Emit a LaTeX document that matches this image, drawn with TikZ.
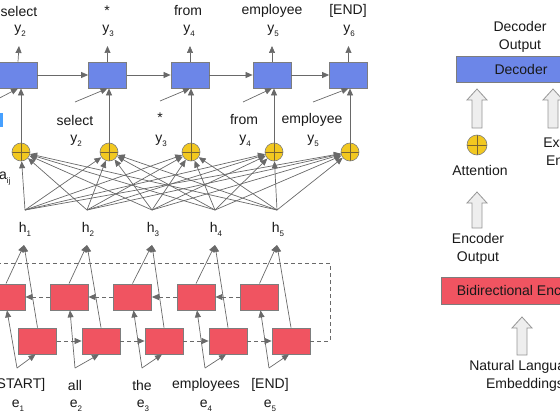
\documentclass[tikz,border=0pt]{standalone}
\usepackage{fontspec}
\setmainfont{Liberation Sans}
\usetikzlibrary{arrows.meta}
\definecolor{decblue}{RGB}{108,134,232}
\definecolor{encred}{RGB}{240,84,97}
\definecolor{attyellow}{RGB}{242,200,32}
\definecolor{linegray}{RGB}{105,105,105}
\definecolor{boxgray}{RGB}{125,125,125}
\definecolor{crossc}{RGB}{120,100,50}
\definecolor{hollowfill}{RGB}{238,238,238}
\definecolor{hollowline}{RGB}{150,150,150}
\definecolor{markblue}{RGB}{70,160,255}
\definecolor{txt}{RGB}{25,25,25}
\newcommand\sub[2]{#1\raisebox{-4pt}{\fontsize{8}{8}\selectfont #2}}
\newcommand\hollowup[3]{%
  \draw[hollow] ({#1-5},#2) -- ({#1-5},{#3+11}) -- ({#1-10},{#3+11}) -- (#1,#3)
    -- ({#1+10},{#3+11}) -- ({#1+5},{#3+11}) -- ({#1+5},#2) -- cycle;}
\begin{document}
\begin{tikzpicture}[x=1pt,y=-1pt,
  font=\fontsize{14}{18}\selectfont, text=txt,
  lbl/.style={inner sep=0pt},
  dbox/.style={draw=boxgray, fill=decblue, line width=0.8pt, minimum width=38pt, minimum height=26pt, inner sep=0pt},
  ebox/.style={draw=boxgray, fill=encred, line width=0.8pt, minimum width=38pt, minimum height=26pt, inner sep=0pt},
  att/.style={circle, draw=boxgray, fill=attyellow, line width=0.6pt, minimum size=18pt, inner sep=0pt,
    path picture={\draw[crossc, line width=0.6pt] (path picture bounding box.north) -- (path picture bounding box.south)
      (path picture bounding box.west) -- (path picture bounding box.east);}},
  arr/.style={draw=linegray, line width=0.7pt, -{Triangle[length=7pt,width=6pt]}},
  darr/.style={draw=linegray, line width=0.7pt, dash pattern=on 4pt off 3pt, -{Triangle[length=7pt,width=6pt]}},
  dline/.style={draw=linegray, line width=0.7pt, dash pattern=on 4pt off 3pt},
  hollow/.style={draw=hollowline, fill=hollowfill, line width=0.8pt, line join=miter}
]
\clip (0,0) rectangle (560,420);

% ---------------- decoder ----------------
\node[dbox] (d1) at (18,75) {};
\node[dbox] (d2) at (107.5,75) {};
\node[dbox] (d3) at (190,75) {};
\node[dbox] (d4) at (272,75) {};
\node[dbox] (d5) at (348.5,75) {};
\foreach \a/\b in {d1/d2,d2/d3,d3/d4,d4/d5} \draw[arr] (\a.east) -- (\b.west);

% outputs
\node[lbl] (w1) at (19,11) {select};
\node[lbl] (w2) at (107,11) {*};
\node[lbl] (w3) at (188,11) {from};
\node[lbl] (w4) at (272,11) {employee};
\node[lbl] (w5) at (348,11) {[END]};
\node[lbl] (o1) at (20,31) {\sub{y}{2}};
\node[lbl] (o2) at (108,31) {\sub{y}{3}};
\node[lbl] (o3) at (189,31) {\sub{y}{4}};
\node[lbl] (o4) at (273,31) {\sub{y}{5}};
\node[lbl] (o5) at (349,31) {\sub{y}{6}};
\coordinate (t1) at (19,46);
\coordinate (t2) at (107.5,46);
\coordinate (t3) at (190,46);
\coordinate (t4) at (272,46);
\coordinate (t5) at (348.5,46);
\foreach \i in {1,...,5} \draw[arr] (d\i.north) -- (t\i);

% previous outputs as inputs
\node[lbl] (p2) at (75,120) {select};
\node[lbl] (p3) at (160,118) {*};
\node[lbl] (p4) at (244,120) {from};
\node[lbl] (p5) at (312,120) {employee};
\node[lbl] (q2) at (76,141) {\sub{y}{2}};
\node[lbl] (q3) at (161,141) {\sub{y}{3}};
\node[lbl] (q4) at (245,141) {\sub{y}{4}};
\node[lbl] (q5) at (313,141) {\sub{y}{5}};
\coordinate (s1) at (-10,103);
\coordinate (s2) at (75,102);
\coordinate (s3) at (160,101);
\coordinate (s4) at (243,102);
\coordinate (s5) at (313,102);
\foreach \i in {1,...,5} \draw[arr] (s\i) -- (d\i.south);

% attention circles
\node[att] (c1) at (21,152) {};
\node[att] (c2) at (109,152) {};
\node[att] (c3) at (191,152) {};
\node[att] (c4) at (274,152) {};
\node[att] (c5) at (350,152) {};
\foreach \i in {1,...,5} \draw[arr] (c\i.north) -- (c\i.north |- d\i.south);

% hidden states
\coordinate (h1) at (25,210);
\coordinate (h2) at (87,210);
\coordinate (h3) at (152,210);
\coordinate (h4) at (215,210);
\coordinate (h5) at (277,210);
\foreach \i in {1,...,5} \foreach \j in {1,...,5} \draw[arr] (h\i) -- (c\j);
\node[lbl] (hl1) at (25,229) {\sub{h}{1}};
\node[lbl] (hl2) at (88,229) {\sub{h}{2}};
\node[lbl] (hl3) at (153,229) {\sub{h}{3}};
\node[lbl] (hl4) at (216,229) {\sub{h}{4}};
\node[lbl] (hl5) at (278,229) {\sub{h}{5}};
\node[lbl, anchor=west] (aij) at (-1,179) {\sub{a}{ij}};
\fill[markblue] (0,113) rectangle (2.5,127);

% ---------------- encoder ----------------
\node[ebox] (b1) at (6,297) {};
\node[ebox] (b2) at (69,297) {};
\node[ebox] (b3) at (132.5,297) {};
\node[ebox] (b4) at (196,297) {};
\node[ebox] (b5) at (259.5,297) {};
\node[ebox] (f1) at (37.5,341) {};
\node[ebox] (f2) at (101,341) {};
\node[ebox] (f3) at (164,341) {};
\node[ebox] (f4) at (228,341) {};
\node[ebox] (f5) at (291,341) {};
\foreach \a/\b in {b2/b1,b3/b2,b4/b3,b5/b4} \draw[darr] (\a.west) -- (\b.east);
\foreach \a/\b in {f1/f2,f2/f3,f3/f4,f4/f5} \draw[darr] (\a.east) -- (\b.west);
\coordinate (lpa) at (330,263);
\coordinate (lpb) at (-10,263);
\draw[dline] (f5.east) -| (lpa) -- (lpb);

\coordinate (u1) at (24,245);
\coordinate (u2) at (87,245);
\coordinate (u3) at (152,245);
\coordinate (u4) at (215,245);
\coordinate (u5) at (277,245);
\foreach \i in {1,...,5} {
  \draw[arr] (b\i.north) -- (u\i);
  \draw[arr] (f\i.north) -- (u\i);
}

\coordinate (e1) at (17,368);
\coordinate (e2) at (75,368);
\coordinate (e3) at (142,368);
\coordinate (e4) at (205,368);
\coordinate (e5) at (269,368);
\foreach \i in {1,...,5} {
  \draw[arr] (e\i) -- ([xshift=1pt]b\i.south);
  \draw[arr] (e\i) -- ([xshift=-2pt]f\i.south);
}
\node[lbl] (x1) at (19,385) {[START]};
\node[lbl] (x2) at (75,385) {all};
\node[lbl] (x3) at (142,385) {the};
\node[lbl] (x4) at (206,385) {employees};
\node[lbl] (x5) at (270,385) {[END]};
\node[lbl] (el1) at (18,406) {\sub{e}{1}};
\node[lbl] (el2) at (76,406) {\sub{e}{2}};
\node[lbl] (el3) at (143,406) {\sub{e}{3}};
\node[lbl] (el4) at (206,406) {\sub{e}{4}};
\node[lbl] (el5) at (270,406) {\sub{e}{5}};

% ---------------- legend panel ----------------
\node[lbl, align=center] (decout) at (520,37) {Decoder\\Output};
\node[dbox, minimum width=130pt, minimum height=26pt] (dec) at (521,69) {Decoder};
\hollowup{477}{128}{89}
\hollowup{553}{128}{89}
\node[att, minimum size=20pt] (legatt) at (477,145) {};
\node[lbl] (attl) at (480,170) {Attention};
\node[lbl, align=center] (ext) at (569,151) {External\\Entities};
\hollowup{477}{228}{192}
\node[lbl, align=center] (encout) at (478,249) {Encoder\\Output};
\node[ebox, minimum width=164pt, minimum height=27pt] (enc) at (523,290.5) {Bidirectional Encoder};
\hollowup{522}{355}{317}
\node[lbl, align=center] (nle) at (525,375.5) {Natural Language\\Embeddings};
\end{tikzpicture}
\end{document}
